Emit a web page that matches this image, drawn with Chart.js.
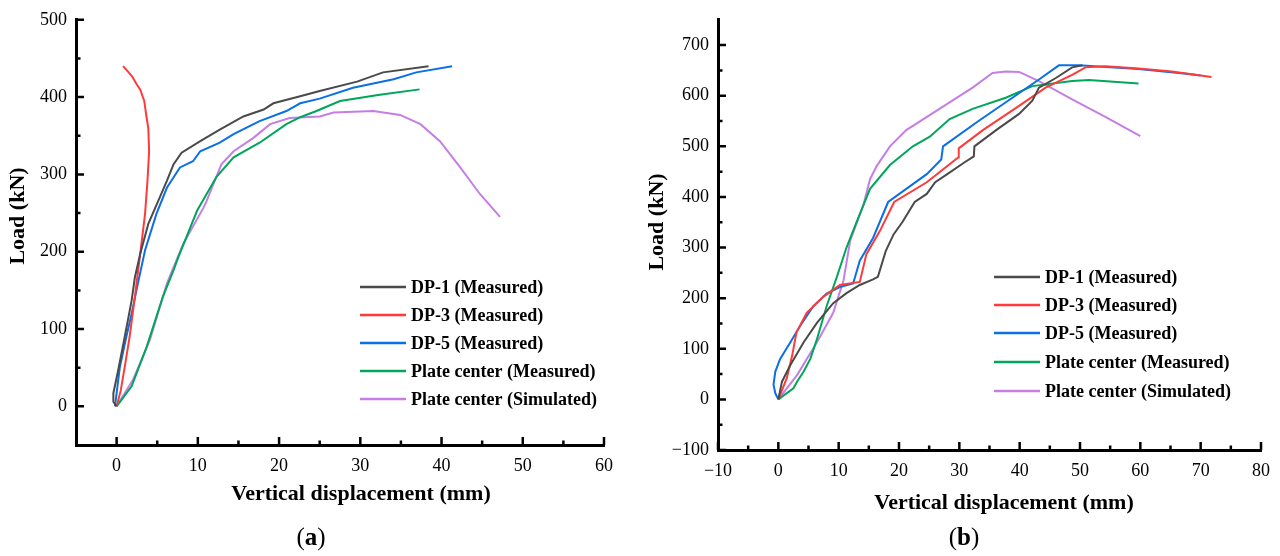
<!DOCTYPE html>
<html>
<head>
<meta charset="utf-8">
<script src="https://cdn.jsdelivr.net/npm/chart.js@4.4.1/dist/chart.umd.min.js"></script>
<style>
  body { margin: 0; background: #fff; width: 1280px; height: 556px; position: relative; overflow: hidden; }
  .panel { position: absolute; top: 0; width: 640px; height: 556px; }
  .cap { position: absolute; top: 522px; width: 80px; text-align: center; font: 25px 'Liberation Serif', 'Times New Roman', serif; line-height: 30px; color: #000; }
  .cap b { font-weight: bold; }
</style>
</head>
<body>
<div class="panel" style="left:0"><canvas id="chartA" width="640" height="556"></canvas></div>
<div class="panel" style="left:640px"><canvas id="chartB" width="640" height="556"></canvas></div>
<div class="cap" style="left:271px">(<b>a</b>)</div>
<div class="cap" style="left:924px">(<b>b</b>)</div>

<script>
// ---- series labels / colours ----
let seriesLabels = ["DP-1 (Measured)", "DP-3 (Measured)", "DP-5 (Measured)", "Plate center (Measured)", "Plate center (Simulated)"];
let seriesColors = ["#4a4a4a", "#ff3a3a", "#0b6fe6", "#00a65a", "#c67ee6"];

// ---- panel (a): [displacement mm, load kN] ----
let aDp1 = [[0, 0], [-0.4, 6], [-0.4, 17], [0.2, 47], [1.0, 90], [1.85, 137], [2.25, 167], [2.9, 197], [3.9, 236],
    [5.3, 270], [6.2, 292], [7.0, 313], [8.0, 328], [10.3, 343], [12.7, 358], [15.6, 375], [18.1, 384], [19.3, 392],
    [22.6, 401], [25.0, 408], [29.6, 420], [32.8, 432], [38.4, 440]];
let aDp3 = [[0, 0], [0.5, 20], [1.0, 51], [1.6, 90], [2.25, 142], [2.9, 197], [3.5, 249], [3.8, 292], [4.0, 330],
    [3.9, 360], [3.7, 373], [3.4, 395], [2.9, 410], [2.5, 416], [1.9, 427], [1.4, 433], [0.8, 440]];
let aDp5 = [[-0.2, 0], [0.4, 51], [1.2, 90], [1.85, 120], [2.7, 163], [3.5, 202], [4.9, 249], [6.2, 283], [7.0, 296],
    [7.8, 309], [9.4, 317], [10.3, 330], [12.7, 341], [14.4, 352], [17.6, 369], [20.9, 382], [22.6, 392], [25.0, 398],
    [29.1, 412], [34.1, 423], [36.9, 432], [41.3, 440]];
let aPlateM = [[0, 0], [1.85, 26], [3.7, 77], [5.7, 142], [7.0, 176], [7.6, 193], [9.9, 253], [12.3, 297], [14.4, 322],
    [17.6, 341], [20.9, 365], [22.6, 374], [24.6, 382], [27.5, 395], [32.4, 403], [37.3, 410]];
let aPlateS = [[0, 0], [2.0, 34], [4.1, 86], [6.2, 159], [8.2, 210], [10.7, 257], [11.1, 266], [12.9, 313], [14.4, 330],
    [16.8, 347], [18.9, 365], [21.3, 373], [25.0, 375], [26.7, 380], [31.6, 382], [34.9, 377], [37.4, 365], [39.8, 343],
    [42.3, 309], [44.7, 275], [47.2, 245]];

// ---- panel (b) ----
let bDp1 = [[0, 0], [0.6, 35], [2.0, 68], [4.2, 113], [6.4, 151], [9.1, 190], [11.3, 210], [13.5, 226], [15.7, 237],
    [16.5, 242], [17.8, 293], [19.1, 326], [20.6, 351], [22.6, 390], [24.6, 406], [26.0, 429], [28.0, 445], [30.7, 467],
    [32.4, 480], [32.5, 500], [36.1, 532], [39.9, 564], [42.1, 590], [43.2, 616], [46.0, 635], [48.7, 656], [50.4, 660]];
let bDp3 = [[0, 0], [1.4, 42], [2.3, 87], [3.0, 132], [4.7, 171], [7.5, 203], [10.2, 226], [13.5, 232], [14.6, 287],
    [16.8, 332], [19.2, 390], [24.6, 429], [29.8, 478], [29.9, 496], [33.9, 532], [39.9, 580], [44.3, 616], [48.7, 641],
    [50.9, 656], [54.2, 658], [59.7, 654], [65.2, 648], [71.8, 637]];
let bDp5 = [[0, 0], [-0.5, 12], [-0.8, 29], [-0.5, 55], [0.3, 80], [2.0, 113], [3.6, 145], [5.8, 184], [8.0, 209],
    [10.2, 222], [12.4, 229], [13.5, 274], [15.7, 319], [18.2, 390], [24.6, 445], [27.0, 474], [27.3, 500], [33.3, 551],
    [38.8, 596], [43.2, 632], [46.5, 660], [49.8, 660], [59.7, 653], [68.0, 643], [70.0, 640]];
let bPlateM = [[0, 0], [2.5, 22], [3.1, 35], [4.2, 55], [5.3, 80], [6.4, 119], [8.0, 184], [9.7, 242], [11.3, 300],
    [13.0, 351], [15.2, 416], [18.5, 463], [22.3, 500], [25.1, 519], [28.4, 554], [32.2, 574], [37.7, 596], [42.1, 619],
    [48.7, 629], [51.5, 631], [59.7, 624]];
let bPlateS = [[0, 0], [3.1, 48], [6.4, 113], [9.1, 171], [10.8, 235], [11.9, 313], [14.1, 384], [15.2, 435], [16.3, 461],
    [18.5, 500], [21.2, 532], [26.7, 574], [32.2, 616], [35.5, 645], [37.7, 648], [39.9, 647], [43.2, 629], [48.7, 593],
    [54.2, 558], [60.0, 520]];

// ---- axis ticks ----
let aXTicks = [0, 10, 20, 30, 40, 50, 60];
let aYTicks = [0, 100, 200, 300, 400, 500];
let bXTicks = [-10, 0, 10, 20, 30, 40, 50, 60, 70, 80];
let bYTicks = [-100, 0, 100, 200, 300, 400, 500, 600, 700];

const serif = "'Liberation Serif', 'Times New Roman', serif";

let fmt = function (v) {
    return v < 0 ? '\u2212' + Math.abs(v) : String(v);
};

// midpoints between labelled ticks (minor ticks)
let halfSteps = function (ticks, min, max) {
    let step = ticks[1] - ticks[0];
    let out = [];
    for (let v = ticks[0] - step / 2; v < max; v += step) {
        if (v > min) out.push(v);
    }
    return out;
}

// inward ticks, legend and axis titles
const frame = {
    id: 'frame',
    afterDraw(chart, args, o) {
        const ctx = chart.ctx;
        const ca = chart.chartArea;
        const xs = chart.scales.x, ys = chart.scales.y;
        ctx.save();
        ctx.strokeStyle = '#000';
        ctx.lineWidth = 2.5;
        ctx.beginPath();
        xs.ticks.forEach(t => {
            let px = xs.getPixelForValue(t.value);
            ctx.moveTo(px, ca.bottom); ctx.lineTo(px, ca.bottom - 8);
        });
        o.xMinor.forEach(v => {
            let px = xs.getPixelForValue(v);
            ctx.moveTo(px, ca.bottom); ctx.lineTo(px, ca.bottom - 4.5);
        });
        ys.ticks.forEach(t => {
            let py = ys.getPixelForValue(t.value);
            ctx.moveTo(ca.left, py); ctx.lineTo(ca.left + 8, py);
        });
        o.yMinor.forEach(v => {
            let py = ys.getPixelForValue(v);
            ctx.moveTo(ca.left, py); ctx.lineTo(ca.left + 4.5, py);
        });
        ctx.stroke();

        // legend
        ctx.font = 'bold 18px ' + serif;
        ctx.textBaseline = 'middle';
        ctx.textAlign = 'left';
        chart.data.datasets.forEach((ds, i) => {
            let y = o.legendY[i];
            ctx.strokeStyle = ds.borderColor;
            ctx.lineWidth = 2.5;
            ctx.beginPath();
            ctx.moveTo(o.legendX, y);
            ctx.lineTo(o.legendX + 46, y);
            ctx.stroke();
            ctx.fillStyle = '#000';
            ctx.fillText(ds.label, o.legendX + 51, y + 1);
        });

        // axis titles
        ctx.font = 'bold 22px ' + serif;
        ctx.textAlign = 'center';
        ctx.fillText('Vertical displacement (mm)', o.xTitle[0], o.xTitle[1]);
        ctx.translate(o.yTitle[0], o.yTitle[1]);
        ctx.rotate(-Math.PI / 2);
        ctx.fillText('Load (kN)', 0, 0);
        ctx.restore();
    }
};

let makeDatasets = function (list) {
    return list.map((pts, i) => ({
        label: seriesLabels[i],
        data: pts,
        showLine: true,
        borderColor: seriesColors[i],
        backgroundColor: seriesColors[i],
        borderWidth: 2,
        pointRadius: 0,
        tension: 0
    }));
}

let axis = function (min, max, ticks, fit) {
    return {
        type: 'linear',
        min: min,
        max: max,
        afterBuildTicks: s => { s.ticks = ticks.map(v => ({ value: v })); },
        afterFit: fit,
        grid: { display: false, drawTicks: false },
        border: { display: true, color: '#000', width: 3 },
        ticks: { color: '#000', font: { family: serif, size: 18 }, padding: 10, maxRotation: 0, autoSkip: false, callback: fmt }
    };
}

let makeChart = function (id, sets, xr, yr, xt, yt, pad, yWidth, extra) {
    let xAxis = axis(xr[0], xr[1], xt, s => { s.height = 40; });
    let yAxis = axis(yr[0], yr[1], yt, s => { s.width = yWidth; });
    yAxis.ticks.padding = 9;
    extra.xMinor = halfSteps(xt, xr[0], xr[1]);
    extra.yMinor = halfSteps(yt, yr[0], yr[1]);
    return new Chart(document.getElementById(id).getContext('2d'), {
        type: 'scatter',
        data: { datasets: makeDatasets(sets) },
        options: {
            responsive: false,
            animation: false,
            layout: { padding: pad },
            plugins: { legend: { display: false }, tooltip: { enabled: false }, frame: extra },
            scales: { x: xAxis, y: yAxis }
        },
        plugins: [frame]
    });
}

makeChart('chartA', [aDp1, aDp3, aDp5, aPlateM, aPlateS], [-5, 60], [-50, 500], aXTicks, aYTicks,
    { left: 0, top: 19, right: 36, bottom: 71 }, 76,
    { legendX: 360, legendY: [287, 315, 343, 371, 399], xTitle: [361, 494], yTitle: [18, 216] });

makeChart('chartB', [bDp1, bDp3, bDp5, bPlateM, bPlateS], [-10, 80], [-100, 750], bXTicks, bYTicks,
    { left: 0, top: 10, right: 17, bottom: 66 }, 78,
    { legendX: 354, legendY: [277, 305, 333, 362, 391], xTitle: [364, 503], yTitle: [17, 222] });
</script>
</body>
</html>
